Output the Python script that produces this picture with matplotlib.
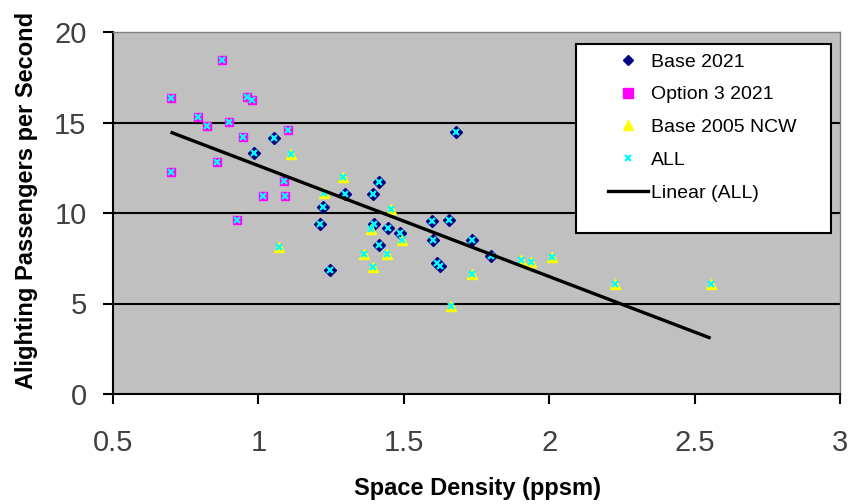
import numpy as np
import matplotlib
matplotlib.use("Agg")
import matplotlib.pyplot as plt
from matplotlib.patches import Rectangle
from matplotlib.lines import Line2D

# Space density (ppsm) vs alighting passengers per second
base2021_x = [1.055, 0.986, 1.298, 1.223, 1.212, 1.415, 1.395, 1.398, 1.447, 1.487,
              1.598, 1.655, 1.601, 1.415, 1.615, 1.625, 1.246, 1.680, 1.735, 1.800]
base2021_y = [14.17, 13.30, 11.05, 10.31, 9.37, 11.70, 11.03, 9.39, 9.19, 8.88,
              9.56, 9.63, 8.51, 8.21, 7.25, 7.05, 6.85, 14.48, 8.52, 7.60]

option3_x = [0.874, 0.698, 0.960, 0.977, 0.793, 0.824, 0.899, 1.103, 0.946, 0.857,
             0.698, 1.089, 1.015, 1.091, 0.925]
option3_y = [18.45, 16.37, 16.43, 16.24, 15.32, 14.81, 15.04, 14.59, 14.18, 12.80,
             12.28, 11.77, 10.92, 10.92, 9.60]

base2005_x = [1.111, 1.290, 1.225, 1.457, 1.386, 1.493, 1.071, 1.364, 1.441, 1.393,
              1.733, 1.662, 1.902, 1.936, 2.008, 2.226, 2.555]
base2005_y = [13.24, 12.00, 11.10, 10.20, 9.12, 8.51, 8.10, 7.72, 7.72, 7.00,
              6.62, 4.87, 7.40, 7.31, 7.59, 6.06, 6.06]

series_labels = ["Base 2021", "Option 3 2021", "Base 2005 NCW", "ALL", "Linear (ALL)"]
x_ticks = [0.5, 1, 1.5, 2, 2.5, 3]
y_ticks = [0, 5, 10, 15, 20]

all_x = np.array(base2021_x + option3_x + base2005_x)
all_y = np.array(base2021_y + option3_y + base2005_y)

W, H = 853, 504
fig = plt.figure(figsize=(W / 100, H / 100), dpi=100)
L, R, T, B = 113, 840, 32, 394
ax = fig.add_axes([L / W, 1 - B / H, (R - L) / W, (B - T) / H])
ax.set_facecolor("#C0C0C0")

ax.set_xlim(0.5, 3)
ax.set_ylim(0, 20)
ax.set_xticks(x_ticks)
ax.set_xticklabels([f"{v:g}" for v in x_ticks])
ax.set_yticks(y_ticks)

# horizontal gridlines
for yv in y_ticks[1:-1]:
    ax.axhline(yv, color="black", lw=1.5, zorder=1)

navy, magenta, yellow, cyan = "#000080", "#FF00FF", "#FFFF00", "#00FFFF"

ax.plot(base2021_x, base2021_y, ls="none", marker="D", ms=5.8, mfc=navy, mec=navy, zorder=3)
ax.plot(option3_x, option3_y, ls="none", marker="s", ms=6.2, mfc=magenta, mec=magenta, zorder=3)
ax.plot(base2005_x, base2005_y, ls="none", marker="^", ms=7.2, mfc=yellow, mec=yellow, zorder=3)
ax.plot(all_x, all_y, ls="none", marker="x", ms=4.5, mew=1.6, color=cyan, zorder=3.5)

# linear trendline fitted on all points
slope, intercept = np.polyfit(all_x, all_y, 1)
xs = np.array([all_x.min(), all_x.max()])
ax.plot(xs, slope * xs + intercept, color="black", lw=2.4, zorder=4, solid_capstyle="butt")

for s in ["left", "bottom"]:
    ax.spines[s].set_color("black")
    ax.spines[s].set_linewidth(1.5)
for s in ["top", "right"]:
    ax.spines[s].set_color("#808080")
    ax.spines[s].set_linewidth(1.0)

ax.tick_params(axis="both", direction="out", length=7, width=1.5, colors="black",
               labelcolor="#404040")
ax.tick_params(axis="x", pad=18)
ax.tick_params(axis="y", pad=12)
for lab in ax.get_xticklabels() + ax.get_yticklabels():
    lab.set_fontfamily("Liberation Sans")
    lab.set_fontsize(21)

fig.text(478 / W, 1 - 488 / H, "Space Density (ppsm)", ha="center", va="center",
         fontsize=17, fontweight="bold", family="Liberation Sans")
fig.text(27 / W, 1 - 200 / H, "Alighting Passengers per Second", ha="center", va="center",
         rotation=90, fontsize=17, fontweight="bold", family="Liberation Sans")

# legend frame and entries
def fx(px):
    return (px - L) / (R - L)

def fy(py):
    return (B - py) / (B - T)

ax.add_patch(Rectangle((fx(576), fy(233)), fx(831) - fx(576), fy(44) - fy(233),
                       transform=ax.transAxes, facecolor="white", edgecolor="black",
                       lw=1.5, zorder=6, clip_on=False))

handles = [
    Line2D([], [], ls="none", marker="D", ms=5, mfc=navy, mec=navy),
    Line2D([], [], ls="none", marker="s", ms=6.5, mfc=magenta, mec=magenta),
    Line2D([], [], ls="none", marker="^", ms=7.5, mfc=yellow, mec=yellow),
    Line2D([], [], ls="none", marker="x", ms=4, mew=1.6, color=cyan),
    Line2D([], [], color="black", lw=2.4),
]
leg = ax.legend(handles, series_labels, loc="upper left",
                bbox_to_anchor=(fx(608), fy(53)), borderaxespad=0, borderpad=0,
                frameon=False, handlelength=2.05, handletextpad=0.15,
                labelspacing=0.78, prop={"family": "Liberation Sans", "size": 14})
leg.set_zorder(7)

fig.savefig("out.png", dpi=100)
